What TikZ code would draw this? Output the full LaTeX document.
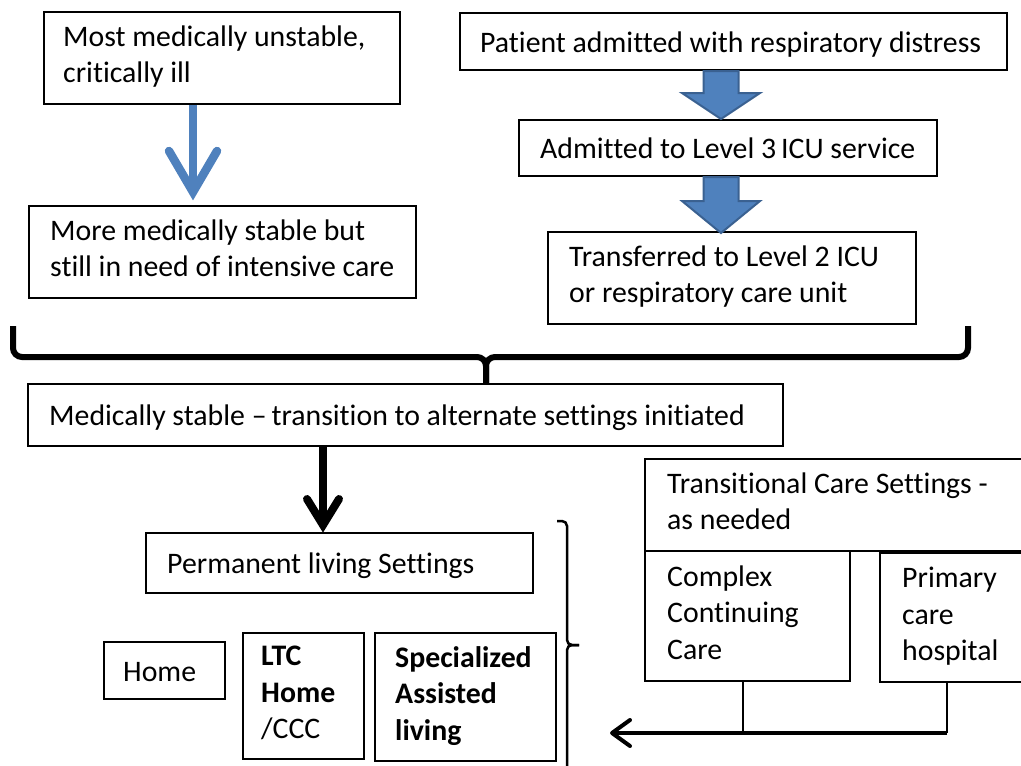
\documentclass[tikz,border=0pt]{standalone}
\usepackage{fontspec}
\setmainfont{Carlito}[Ligatures=CommonOff]
\usetikzlibrary{calc,arrows.meta}
\definecolor{accentblue}{HTML}{4F81BD}
\definecolor{accentedge}{HTML}{3A6191}
% line strut: 29pt above the baseline, 7.5pt below
\newcommand\lnstrut{\rule[-7.5pt]{0pt}{36.5pt}}
\begin{document}
\begin{tikzpicture}[x=1pt,y=-1pt,
  box/.style={draw, line width=2.2pt, anchor=north west, inner sep=0pt},
  txt/.style={anchor=west, align=left, inner sep=0pt,
    font=\fontsize{29.8}{36.5}\selectfont,
    execute at begin node=\lnstrut, execute at end node=\lnstrut},
  blockarr/.style={fill=accentblue, draw=accentedge, line width=2pt, line join=miter},
  blueline/.style={draw=accentblue, line width=8.5pt},
  blackline/.style={draw=black, line width=8pt},
  bigbrace/.style={draw=black, line width=6pt, rounded corners=9pt},
  sidebracket/.style={draw=black, line width=2.5pt, rounded corners=5pt},
  feed/.style={draw=black, line width=2pt},
  mainfeed/.style={draw=black, line width=4pt}]
\useasboundingbox (0,0) rectangle (1021,766);
\clip (0,0) rectangle (1021,766);

% ---- left column: severity levels
\node[box, minimum width=356pt, minimum height=92pt] (unstable) at (43,11) {};
\node[txt] (unstable-t) at ([xshift=20pt]unstable.west) {Most medically unstable,\\critically ill};
\node[box, minimum width=387pt, minimum height=92pt] (morestable) at (28,205) {};
\node[txt] (morestable-t) at ([xshift=22pt]morestable.west) {More medically stable but\\still in need of intensive care};

% ---- right column: patient pathway
\node[box, minimum width=547pt, minimum height=57pt] (patient) at (459,12) {};
\node[txt] (patient-t) at ([xshift=21pt]patient.west) {Patient admitted with respiratory distress};
\node[box, minimum width=418pt, minimum height=56pt] (level3) at (518,119) {};
\node[txt] (level3-t) at ([xshift=22pt]level3.west) {Admitted to Level 3\,ICU service};
\node[box, minimum width=368pt, minimum height=92pt] (level2) at (547,231) {};
\node[txt] (level2-t) at ([xshift=22pt]level2.west) {Transferred to Level 2 ICU\\or respiratory care unit};

% ---- stable stage
\node[box, minimum width=755pt, minimum height=62pt] (medstable) at (27,383) {};
\node[txt] (medstable-t) at ([xshift=22pt]medstable.west) {Medically stable --\,transition to alternate settings initiated};

% ---- permanent living settings
\node[box, minimum width=387pt, minimum height=60pt] (permanent) at (145,532) {};
\node[txt] (permanent-t) at ([xshift=22pt]permanent.west) {Permanent living Settings};
\node[box, minimum width=121pt, minimum height=57pt] (home) at (103,641) {};
\node[txt] (home-t) at ([xshift=20pt]home.west) {Home};
\node[box, minimum width=121pt, minimum height=126pt] (ltc) at (242,632) {};
\node[txt] (ltc-t) at ([xshift=19pt]ltc.west) {\textbf{LTC}\\\textbf{Home}\\/CCC};
\node[box, minimum width=181pt, minimum height=128pt] (assisted) at (374,632) {};
\node[txt] (assisted-t) at ([xshift=21pt]assisted.west) {\textbf{Specialized}\\\textbf{Assisted}\\\textbf{living}};

% ---- transitional care settings
\node[box, minimum width=430pt, minimum height=92pt] (transitional) at (644,458) {};
\node[txt] (transitional-t) at ([xshift=23pt]transitional.west) {Transitional Care Settings -\\as needed};
\node[box, minimum width=205pt, minimum height=130pt] (complex) at (644,550) {};
\node[txt] (complex-t) at ([xshift=23pt]complex.west) {Complex\\Continuing\\Care};
\node[box, minimum width=190pt, minimum height=129pt] (primary) at (879,552) {};
\node[txt] (primary-t) at ([xshift=23pt]primary.west) {Primary\\care\\hospital};

% ---- block arrows along the pathway
\coordinate (ax) at (721,0);
\draw[blockarr] ($(patient.south -| ax)+(-17.5,0)$) -- ++(35,0)
  -- ($(level3.north -| ax)+(17.5,-26)$) -- ++(21.5,0) -- (level3.north -| ax)
  -- ($(level3.north -| ax)+(-39,-26)$) -- ++(21.5,0) -- cycle;
\draw[blockarr] ($(level3.south -| ax)+(-17.5,0)$) -- ++(35,0)
  -- ($(level2.north -| ax)+(17.5,-30)$) -- ++(21.5,0) -- ($(level2.north -| ax)+(0,2)$)
  -- ($(level2.north -| ax)+(-39,-30)$) -- ++(21.5,0) -- cycle;

% ---- thin blue arrow between severity levels
\coordinate (bx) at (193,0);
\draw[blueline] (unstable.south -| bx) -- ($(morestable.north -| bx)+(0,-16)$);
\draw[blueline, line cap=round, line join=miter]
  ($(morestable.north -| bx)+(-24,-54)$) -- ($(morestable.north -| bx)+(0,-13)$)
  -- ($(morestable.north -| bx)+(24,-54)$);

% ---- brace gathering both columns
\coordinate (mid) at (486,357);
\draw[bigbrace] (13,326) |- (mid) -- (medstable.north -| mid);
\draw[bigbrace] (968,326) |- (mid) -- (medstable.north -| mid);

% ---- arrow to permanent settings
\coordinate (kx) at (323,0);
\draw[blackline] (medstable.south -| kx) -- ($(permanent.north -| kx)+(0,-9)$);
\draw[blackline, line cap=round, line join=miter]
  ($(permanent.north -| kx)+(-16,-33)$) -- ($(permanent.north -| kx)+(0,-7)$)
  -- ($(permanent.north -| kx)+(16,-33)$);

% ---- side bracket grouping the permanent settings
\draw[sidebracket] (557,521) -- (567,521) -- (567,645) -- (579,645);
\draw[sidebracket] (579,645) -- (567,645) -- (567,780);

% ---- return path from transitional care
\coordinate (ptip) at (610,733);
\coordinate (px) at (947,0);
\coordinate (cx) at (743,0);
\coordinate (pcorner) at (px |- ptip);
\draw[feed] (primary.south -| px) -- (pcorner);
\draw[feed] (complex.south -| cx) -- (cx |- ptip);
\draw[mainfeed, -{Straight Barb[length=18pt,width=26pt,round]}] (pcorner) -- (ptip);
\end{tikzpicture}
\end{document}
